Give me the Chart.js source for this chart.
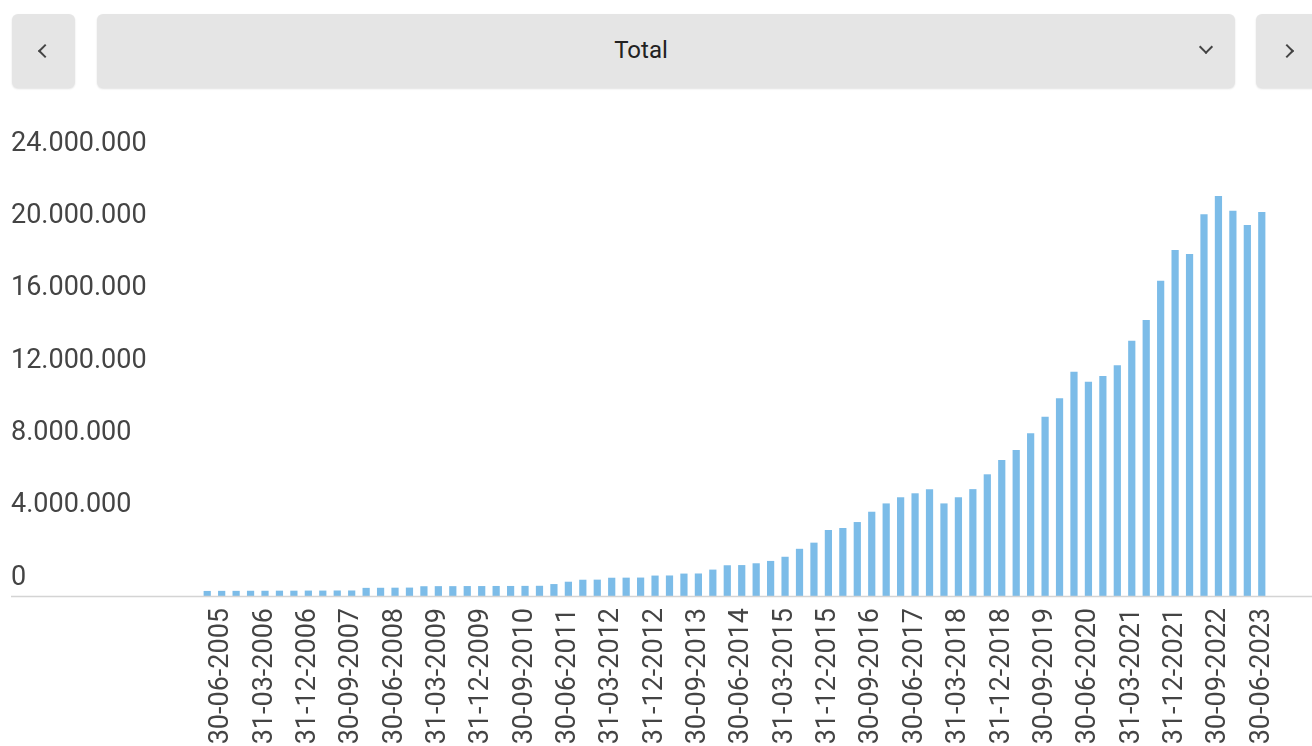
<!DOCTYPE html>
<html>
<head>
<meta charset="utf-8">
<script src="https://cdn.jsdelivr.net/npm/chart.js@4.4.0/dist/chart.umd.min.js"></script>
<style>
    html, body { margin: 0; padding: 0; background: #fff; font-family: Roboto, "Noto Sans", sans-serif; }
    body { width: 1312px; height: 746px; position: relative; overflow: hidden; }
    .btn {
        position: absolute; top: 14px; height: 74px; background: #e5e5e5;
        border-radius: 6px; box-shadow: 0 1px 2px rgba(0,0,0,0.12);
    }
    .chev {
        position: absolute; width: 8px; height: 8px;
        border-left: 2px solid #444; border-bottom: 2px solid #444;
    }
    #prev { left: 12px; width: 63px; }
    #prev .chev { left: 28px; top: 32px; transform: rotate(45deg); }
    #select { left: 97px; width: 1138px; }
    #select .txt { position: absolute; left: 0; width: 1088px; top: 22px; text-align: center; font-size: 24px; color: #222; }
    #select .chev { left: 1104px; top: 28px; transform: rotate(-45deg); }
    #next { left: 1256px; width: 70px; }
    #next .chev { left: 26px; top: 32px; transform: rotate(-135deg); }
    #wrap { position: absolute; left: 0; top: 100px; width: 1312px; height: 646px; }
</style>
</head>
<body>
<div class="btn" id="prev"><div class="chev"></div></div>
<div class="btn" id="select"><div class="txt">Total</div><div class="chev"></div></div>
<div class="btn" id="next"><div class="chev"></div></div>
<div id="wrap"><canvas id="myChart"></canvas></div>
<script>
const dates = [
    '31-03-2005', '30-06-2005', '30-09-2005', '31-12-2005',
    '31-03-2006', '30-06-2006', '30-09-2006', '31-12-2006',
    '31-03-2007', '30-06-2007', '30-09-2007', '31-12-2007',
    '31-03-2008', '30-06-2008', '30-09-2008', '31-12-2008',
    '31-03-2009', '30-06-2009', '30-09-2009', '31-12-2009',
    '31-03-2010', '30-06-2010', '30-09-2010', '31-12-2010',
    '31-03-2011', '30-06-2011', '30-09-2011', '31-12-2011',
    '31-03-2012', '30-06-2012', '30-09-2012', '31-12-2012',
    '31-03-2013', '30-06-2013', '30-09-2013', '31-12-2013',
    '31-03-2014', '30-06-2014', '30-09-2014', '31-12-2014',
    '31-03-2015', '30-06-2015', '30-09-2015', '31-12-2015',
    '31-03-2016', '30-06-2016', '30-09-2016', '31-12-2016',
    '31-03-2017', '30-06-2017', '30-09-2017', '31-12-2017',
    '31-03-2018', '30-06-2018', '30-09-2018', '31-12-2018',
    '31-03-2019', '30-06-2019', '30-09-2019', '31-12-2019',
    '31-03-2020', '30-06-2020', '30-09-2020', '31-12-2020',
    '31-03-2021', '30-06-2021', '30-09-2021', '31-12-2021',
    '31-03-2022', '30-06-2022', '30-09-2022', '31-12-2022',
    '31-03-2023', '30-06-2023'
];

const totals = [
    280000, 285000, 285000, 290000, 290000, 295000, 295000, 300000,
    300000, 305000, 305000, 450000, 455000, 460000, 465000, 540000,
    545000, 545000, 550000, 550000, 555000, 555000, 560000, 565000,
    660000, 790000, 900000, 905000, 1010000, 1015000, 1020000, 1130000,
    1135000, 1240000, 1245000, 1460000, 1700000, 1710000, 1810000, 1940000,
    2170000, 2610000, 2950000, 3650000, 3760000, 4090000, 4660000, 5120000,
    5460000, 5680000, 5910000, 5120000, 5460000, 5910000, 6730000, 7520000,
    8070000, 9000000, 9910000, 10930000, 12400000, 11850000, 12170000, 12760000,
    14120000, 15260000, 17440000, 19130000, 18910000, 21110000, 22120000, 21310000,
    20520000, 21230000
];

// fechas que llevan etiqueta en el eje x
const tickDates = [
    '30-06-2005', '31-03-2006', '31-12-2006', '30-09-2007', '30-06-2008',
    '31-03-2009', '31-12-2009', '30-09-2010', '30-06-2011', '31-03-2012',
    '31-12-2012', '30-09-2013', '30-06-2014', '31-03-2015', '31-12-2015',
    '30-09-2016', '30-06-2017', '31-03-2018', '31-12-2018', '30-09-2019',
    '30-06-2020', '31-03-2021', '31-12-2021', '30-09-2022', '30-06-2023'
];

const yMax = 24000000;
const yStep = 4000000;

const fmt = v => String(v).replace(/\B(?=(\d{3})+(?!\d))/g, '.');

// linea base, desde el borde izquierdo hasta el derecho
const baseLine = {
    id: 'baseLine',
    afterDatasetsDraw(chart) {
        const y = Math.round(chart.scales.y.getPixelForValue(0)) + 0.5;
        const ctx = chart.ctx;
        ctx.save();
        ctx.strokeStyle = '#d4d4d4';
        ctx.lineWidth = 1.5;
        ctx.beginPath();
        ctx.moveTo(11, y);
        ctx.lineTo(chart.width, y);
        ctx.stroke();
        ctx.restore();
    }
};

const data = {
    labels: dates,
    datasets: [{
        label: 'Total',
        data: totals,
        backgroundColor: '#7cbce8',
        barPercentage: 0.5,
        categoryPercentage: 1.0
    }]
};

const config = {
    type: 'bar',
    data: data,
    options: {
        responsive: true,
        maintainAspectRatio: false,
        animation: false,
        layout: { padding: { left: 11, right: 43, top: 62, bottom: 0 } },
        plugins: {
            legend: { display: false },
            tooltip: { enabled: false }
        },
        scales: {
            x: {
                grid: { display: false, drawTicks: false },
                border: { display: false },
                afterFit: s => { s.height = 150; },
                ticks: {
                    autoSkip: false,
                    minRotation: 90,
                    maxRotation: 90,
                    padding: 12,
                    color: '#444',
                    font: { family: 'Roboto', size: 27 },
                    callback: function (val) {
                        const lab = this.getLabelForValue(val);
                        return tickDates.includes(lab) ? lab : '';
                    }
                }
            },
            y: {
                min: 0,
                max: yMax,
                grid: { display: false },
                border: { display: false },
                afterFit: s => { s.width = 189; },
                ticks: {
                    stepSize: yStep,
                    crossAlign: 'far',
                    labelOffset: -18,
                    color: '#444',
                    font: { family: 'Roboto', size: 27 },
                    callback: v => fmt(v)
                }
            }
        }
    },
    plugins: [baseLine]
};

const myChart = new Chart(
    document.getElementById('myChart'),
    config
);
</script>
</body>
</html>
